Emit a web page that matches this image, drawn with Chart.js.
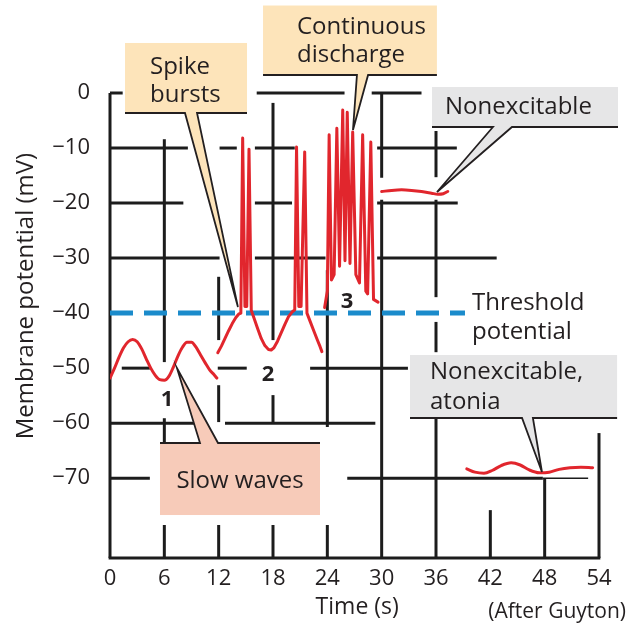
<!DOCTYPE html>
<html><head><meta charset="utf-8">
<script src="https://cdn.jsdelivr.net/npm/chart.js@4/dist/chart.umd.min.js"></script>
<style>html,body{margin:0;padding:0;background:#fff}</style>
</head><body>
<canvas id="c" width="630" height="631"></canvas>
<script>
// ---- tick labels ----
const xTickValues = [0, 6, 12, 18, 24, 30, 36, 42, 48, 54];
const yTickValues = [0, -10, -20, -30, -40, -50, -60, -70];

// ---- series (time s, membrane potential mV) ----
const slowTimes = [0, 0.5, 1, 1.5, 2, 2.5, 3, 3.5, 4, 4.5, 5, 5.5, 6, 6.5, 7, 7.5, 8, 8.5, 9, 9.5, 10, 10.5, 11, 11.5, 11.8];
const slowMv = [-51.8, -50, -48, -46.3, -45.2, -44.8, -45.2, -46.5, -48.3, -50, -51.3, -52.1, -52.2, -51.5, -49.8, -47.8, -46.2, -45.3, -45.3, -46.2, -47.6, -49, -50.3, -51.2, -51.8];

const burstTimes = [11.9, 12.3, 12.7, 13.1, 13.5, 13.9, 14.2, 14.45, 14.65, 14.9, 15.1, 15.35, 15.6, 15.9, 16.3, 16.7, 17.1, 17.5, 17.8, 18.1, 18.5, 18.9, 19.3, 19.7, 20.1, 20.4, 20.6, 20.85, 21.1, 21.5, 21.75, 22.1, 22.5, 22.9, 23.2, 23.4];
const burstMv = [-47.2, -46.0, -44.6, -43.2, -41.9, -40.8, -40.2, -40.0, -8.2, -38.8, -38.8, -10.2, -39.5, -40.9, -42.8, -44.6, -45.9, -46.6, -46.7, -46.3, -45.1, -43.6, -42.1, -40.7, -39.8, -39.4, -9.8, -38.8, -38.8, -10.7, -40.0, -41.5, -43.2, -44.9, -46.1, -47.0];

const dischargeTimes = [23.7, 24.0, 24.2, 24.45, 24.75, 25.05, 25.35, 25.7, 25.95, 26.2, 26.5, 26.8, 27.15, 27.55, 27.9, 28.25, 28.45, 28.8, 29.1, 29.6];
const dischargeMv = [-39.0, -36.0, -7.6, -34.0, -33.0, -6.4, -31.5, -3.1, -30.5, -3.5, -31.0, -7.1, -33.0, -34.5, -7.6, -36.0, -36.5, -8.9, -37.5, -38.0];

const nonexTimes = [30.0, 31.1, 32.2, 33.3, 34.4, 35.5, 36.2, 36.8, 37.3];
const nonexMv = [-17.9, -17.7, -17.6, -17.7, -17.9, -18.2, -18.4, -18.3, -17.9];

const atoniaTimes = [39.4, 40.3, 41.3, 42.2, 43.2, 44.3, 45.3, 46.3, 47.4, 48.5, 49.6, 50.8, 52.0, 53.3];
const atoniaMv = [-68.3, -68.9, -69.1, -68.6, -67.7, -67.2, -67.6, -68.5, -69.0, -68.9, -68.4, -68.1, -68.0, -68.1];

const thresholdTimes = [0, 39.2];
const thresholdMv = [-40, -40];

// ---- decorative grid segments (data units) ----
// horizontal: [mV, t0, t1, width]
const gridH = [
  [0, 0, 1.4, 3], [0, 16.2, 25.9, 3], [0, 28.9, 34.4, 3],
  [-10, 0, 8.6, 3], [-10, 12.1, 14.0, 3], [-10, 16.0, 20.4, 3], [-10, 29.5, 38.3, 3],
  [-20, 0, 8.1, 3], [-20, 16.0, 20.1, 3], [-20, 29.5, 38.4, 3],
  [-30, 0, 12.1, 3], [-30, 16.0, 23.8, 3], [-30, 29.5, 42.7, 3],
  [-50, 1.3, 4.4, 3], [-50, 11.9, 15.1, 3], [-50, 22.1, 32.9, 3],
  [-60, 0, 9.9, 3], [-60, 12.7, 29.3, 3],
  [-70, 0, 4.4, 3], [-70, 26.2, 47.8, 3], [-70, 47.8, 52.8, 1.5],
  [-84.5, -0.15, 54.15, 3]
];
// vertical: [t, mV0, mV1, width]
const gridV = [
  [0, 0, -84.5, 3],
  [6, -8.4, -48.9, 3], [6, -59.1, -63.6, 3], [6, -78.5, -84.5, 3],
  [12, -33.4, -44.9, 3], [12, -53.1, -59.8, 3], [12, -78.5, -84.5, 3],
  [18, -1.8, -44.9, 3], [18, -54.9, -60, 3], [18, -78.5, -84.5, 3],
  [24, -32.2, -60.7, 3], [24, -78.5, -84.5, 3],
  [30, 0, -15.4, 3], [30, -19.4, -84.5, 3],
  [36, -6.9, -15.3, 3], [36, -19.4, -37.1, 3], [36, -41.6, -47.1, 3], [36, -59.1, -84.5, 3],
  [42, -75.8, -84.5, 3],
  [48, -70, -84.5, 3],
  [54, -61.8, -84.5, 3]
];

// ---- callouts (data units) ----
const callouts = [
  {lines: ['Spike', 'bursts'], fill: '#fde4ba', x0: 1.66, x1: 15.13, yTop: 9.09, yBot: -3.63, edge: 'bottom',
   p0: 8.28, p1: 9.61, tipX: 14.13, tipY: -38.9, tx: 4.42, ty: [4.72, -0.36], align: 'left'},
  {lines: ['Continuous', 'discharge'], fill: '#fde4ba', x0: 16.9, x1: 36.1, yTop: 15.9, yBot: 3.27, edge: 'bottom',
   p0: 27.27, p1: 28.5, tipX: 26.83, tipY: -6.72, tx: 20.65, ty: [11.9, 6.8], align: 'left'},
  {lines: ['Nonexcitable'], fill: '#e6e6e7', x0: 35.56, x1: 56.1, yTop: 1.09, yBot: -6.18, edge: 'bottom',
   p0: 42.29, p1: 44.39, tipX: 36.11, tipY: -17.99, tx: 36.99, ty: [-2.6], align: 'left'},
  {lines: ['Nonexcitable,', 'atonia'], fill: '#e6e6e7', x0: 33.13, x1: 56.0, yTop: -47.61, yBot: -59.06, edge: 'bottom',
   p0: 45.5, p1: 46.7, tipX: 47.7, tipY: -68.87, tx: 35.34, ty: [-50.7, -56.15], align: 'left'},
  {lines: ['Slow waves'], fill: '#f7cbb9', x0: 5.52, x1: 23.19, yTop: -63.6, yBot: -76.69, edge: 'top',
   p0: 9.94, p1: 11.93, tipX: 7.4, tipY: -50.0, tx: 14.36, ty: [-70.5], align: 'center'}
];
const phaseLabels = [['1', 6.29, -55.8], ['2', 17.45, -51.24], ['3', 26.17, -37.98]];

const INK = '#231f20';
const RED = '#e1262d';
const FONT = '"Open Sans", "DejaVu Sans", sans-serif';

function pts(xs, ys) { return xs.map((x, i) => ({x: x, y: ys[i]})); }
function redSet(xs, ys, smooth) {
  const d = {data: pts(xs, ys), borderColor: RED, borderWidth: 3, pointRadius: 0, fill: false,
          borderJoinStyle: 'round', borderCapStyle: 'round'};
  if (smooth) d.cubicInterpolationMode = 'monotone'; else d.tension = 0;
  return d;
}

const decor = {
  id: 'decor',
  beforeDatasetsDraw(chart) {
    const ctx = chart.ctx, X = chart.scales.x, Y = chart.scales.y;
    ctx.save();
    ctx.strokeStyle = '#1c1c1c';
    ctx.lineCap = 'butt';
    gridH.forEach(([v, a, b, w]) => {
      ctx.lineWidth = w; ctx.beginPath();
      ctx.moveTo(X.getPixelForValue(a), Y.getPixelForValue(v));
      ctx.lineTo(X.getPixelForValue(b), Y.getPixelForValue(v)); ctx.stroke();
    });
    gridV.forEach(([t, a, b, w]) => {
      ctx.lineWidth = w; ctx.beginPath();
      ctx.moveTo(X.getPixelForValue(t), Y.getPixelForValue(a));
      ctx.lineTo(X.getPixelForValue(t), Y.getPixelForValue(b)); ctx.stroke();
    });
    ctx.restore();
  },
  afterDatasetsDraw(chart) {
    const ctx = chart.ctx, X = chart.scales.x, Y = chart.scales.y;
    const px = v => X.getPixelForValue(v), py = v => Y.getPixelForValue(v);
    ctx.save();
    callouts.forEach(c => {
      const L = px(c.x0), R = px(c.x1), T = py(c.yTop), B = py(c.yBot);
      const E = c.edge === 'bottom' ? B : T;
      const b0 = px(c.p0), b1 = px(c.p1), tx = px(c.tipX), ty = py(c.tipY);
      ctx.fillStyle = c.fill;
      ctx.fillRect(L, T, R - L, B - T);
      ctx.beginPath(); ctx.moveTo(b0, E); ctx.lineTo(tx, ty); ctx.lineTo(b1, E); ctx.closePath(); ctx.fill();
      ctx.strokeStyle = INK; ctx.lineWidth = 1.8; ctx.lineJoin = 'miter';
      ctx.beginPath(); ctx.moveTo(L, E); ctx.lineTo(b0, E); ctx.lineTo(tx, ty); ctx.lineTo(b1, E); ctx.lineTo(R, E); ctx.stroke();
      ctx.fillStyle = INK; ctx.font = '24px ' + FONT; ctx.textBaseline = 'middle'; ctx.textAlign = c.align;
      c.lines.forEach((s, i) => ctx.fillText(s, px(c.tx), py(c.ty[i])));
    });
    ctx.fillStyle = INK; ctx.textBaseline = 'middle'; ctx.textAlign = 'center';
    ctx.font = 'bold 22px ' + FONT;
    phaseLabels.forEach(([s, t, v]) => ctx.fillText(s, px(t), py(v)));
    ctx.font = '24px ' + FONT; ctx.textAlign = 'left';
    ctx.fillText('Threshold', px(39.97), py(-38.16));
    ctx.fillText('potential', px(39.97), py(-43.43));
    ctx.font = '23px ' + FONT; ctx.textAlign = 'center';
    ctx.fillText('Time (s)', px(27.3), py(-93.4));
    ctx.font = '21px ' + FONT; ctx.textAlign = 'right';
    ctx.fillText('(After Guyton)', px(56.98), py(-94.4));
    ctx.save();
    ctx.translate(px(-9.28), py(-36.9));
    ctx.rotate(-Math.PI / 2);
    ctx.font = '24px ' + FONT; ctx.textAlign = 'center';
    ctx.fillText('Membrane potential (mV)', 0, 0);
    ctx.restore();
    ctx.restore();
  }
};

new Chart(document.getElementById('c'), {
  type: 'line',
  data: {
    datasets: [
      redSet(slowTimes, slowMv, true),
      redSet(burstTimes, burstMv, false),
      redSet(dischargeTimes, dischargeMv, false),
      redSet(nonexTimes, nonexMv, true),
      redSet(atoniaTimes, atoniaMv, true),
      {data: pts(thresholdTimes, thresholdMv), borderColor: '#1b8bcb', borderWidth: 5, borderDash: [23, 11],
       pointRadius: 0, fill: false, tension: 0, borderCapStyle: 'butt'}
    ]
  },
  options: {
    responsive: false, animation: false, devicePixelRatio: 1,
    layout: {padding: {top: 93, right: 31, left: 0, bottom: 0}},
    plugins: {legend: {display: false}, tooltip: {enabled: false}},
    scales: {
      x: {
        type: 'linear', min: 0, max: 54,
        afterBuildTicks: s => { s.ticks = xTickValues.map(v => ({value: v})); },
        afterFit: s => { s.height = 73; },
        grid: {display: false, drawTicks: false}, border: {display: false},
        ticks: {font: {family: FONT, size: 22}, color: INK, padding: 8, maxRotation: 0, autoSkip: false}
      },
      y: {
        type: 'linear', min: -84.5, max: 0,
        afterBuildTicks: s => { s.ticks = yTickValues.map(v => ({value: v})); },
        afterFit: s => { s.width = 110; },
        grid: {display: false, drawTicks: false}, border: {display: false},
        ticks: {font: {family: FONT, size: 22}, color: INK, padding: 20,
                callback: v => v === 0 ? '0' : '\u2212' + Math.abs(v)}
      }
    }
  },
  plugins: [decor]
});
</script>
</body></html>
